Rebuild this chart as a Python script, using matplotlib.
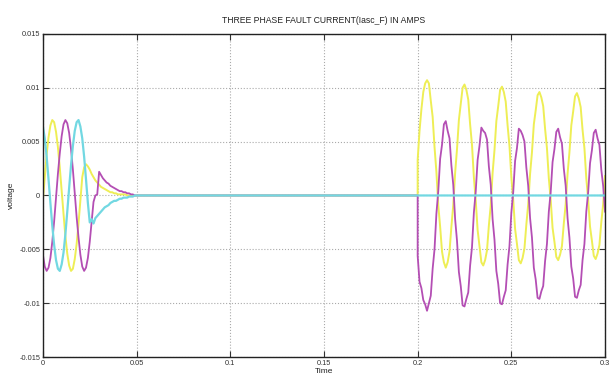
import numpy as np
import matplotlib
matplotlib.use("Agg")
import matplotlib.pyplot as plt

plt.rcParams['font.family'] = ['Liberation Sans Narrow', 'Liberation Sans', 'DejaVu Sans']

# sample grid (1 ms) for the two disturbed windows
t_early = np.arange(51) / 1000.0          # 0.000 .. 0.050 s
t_late = 0.2 + np.arange(101) / 1000.0    # 0.200 .. 0.300 s

# phase currents, 0 - 0.05 s
yel_early = [-0.0004, 0.0017, 0.0038, 0.0054, 0.0065, 0.0070, 0.0068, 0.0059, 0.0045, 0.0026,
             0.0004, -0.0017, -0.0038, -0.0054, -0.0065, -0.0070, -0.0068, -0.0059, -0.0045, -0.0026,
             -0.0004, 0.0017, 0.0026, 0.0029, 0.0027, 0.0024, 0.0020, 0.0017, 0.0014, 0.0012,
             0.0010, 0.0008, 0.0007, 0.0006, 0.0005, 0.0004, 0.0003, 0.0003, 0.0002, 0.0002,
             0.0001, 0.0001, 0.0001, 0.0001, 0.0001, 0.0, 0.0, 0.0, 0.0, 0.0, 0.0]
mag_early = [-0.0055, -0.0066, -0.0070, -0.0067, -0.0058, -0.0043, -0.0024, -0.0002, 0.0020, 0.0039,
             0.0055, 0.0066, 0.0070, 0.0067, 0.0058, 0.0043, 0.0024, 0.0002, -0.0020, -0.0039,
             -0.0055, -0.0066, -0.0070, -0.0067, -0.0058, -0.0043, -0.0024, -0.0006, 0.0000, 0.0001,
             0.0022, 0.0019, 0.0016, 0.0014, 0.0012, 0.0011, 0.0009, 0.0008, 0.0007, 0.0006,
             0.0005, 0.0004, 0.0004, 0.0003, 0.0003, 0.0002, 0.0002, 0.0001, 0.0001, 0.0, 0.0]
cyan_early = [0.0064, 0.0053, 0.0036, 0.0015, -0.0007, -0.0028, -0.0046, -0.0060, -0.0068, -0.0070,
              -0.0064, -0.0053, -0.0036, -0.0015, 0.0007, 0.0028, 0.0046, 0.0060, 0.0068, 0.0070,
              0.0064, 0.0053, 0.0036, 0.0015, -0.0007, -0.0025, -0.0022, -0.0026, -0.0021, -0.0019,
              -0.0017, -0.0015, -0.0013, -0.0011, -0.0010, -0.0009, -0.0007, -0.0006, -0.0005, -0.0005,
              -0.0004, -0.0003, -0.0003, -0.0002, -0.0002, -0.0002, -0.0001, -0.0001, -0.0001, 0.0, 0.0]

# fault window, 0.2 - 0.3 s (cyan phase stays at zero)
yel_late = [0.0033, 0.0060, 0.0080, 0.0096, 0.0104, 0.0107, 0.0104, 0.0088, 0.0073, 0.0045,
            0.0022, -0.0009, -0.0029, -0.0052, -0.0062, -0.0067, -0.0062, -0.0052, -0.0029, -0.0009,
            0.0021, 0.0043, 0.0070, 0.0085, 0.0100, 0.0103, 0.0098, 0.0089, 0.0066, 0.0047,
            0.0017, -0.0005, -0.0032, -0.0047, -0.0062, -0.0065, -0.0060, -0.0051, -0.0028, -0.0009,
            0.0021, 0.0042, 0.0069, 0.0083, 0.0098, 0.0101, 0.0096, 0.0087, 0.0065, 0.0046,
            0.0017, -0.0004, -0.0031, -0.0045, -0.0060, -0.0063, -0.0058, -0.0049, -0.0027, -0.0008,
            0.0020, 0.0040, 0.0066, 0.0079, 0.0093, 0.0096, 0.0091, 0.0083, 0.0062, 0.0044,
            0.0016, -0.0004, -0.0030, -0.0043, -0.0057, -0.0060, -0.0055, -0.0047, -0.0026, -0.0008,
            0.0020, 0.0040, 0.0065, 0.0078, 0.0092, 0.0095, 0.0090, 0.0082, 0.0061, 0.0044,
            0.0016, -0.0004, -0.0029, -0.0042, -0.0056, -0.0059, -0.0054, -0.0046, -0.0025, -0.0008,
            0.0018]
mag_late = [-0.0056, -0.0080, -0.0086, -0.0097, -0.0101, -0.0107, -0.0100, -0.0093, -0.0068, -0.0050,
            -0.0017, 0.0004, 0.0034, 0.0047, 0.0066, 0.0069, 0.0060, 0.0053, 0.0028, 0.0010,
            -0.0022, -0.0042, -0.0071, -0.0084, -0.0102, -0.0103, -0.0096, -0.0090, -0.0065, -0.0048,
            -0.0016, 0.0004, 0.0033, 0.0046, 0.0063, 0.0060, 0.0058, 0.0052, 0.0027, 0.0010,
            -0.0022, -0.0041, -0.0070, -0.0082, -0.0100, -0.0101, -0.0094, -0.0088, -0.0064, -0.0047,
            -0.0016, 0.0003, 0.0032, 0.0044, 0.0062, 0.0060, 0.0056, 0.0050, 0.0026, 0.0009,
            -0.0021, -0.0039, -0.0067, -0.0078, -0.0095, -0.0096, -0.0089, -0.0084, -0.0061, -0.0045,
            -0.0015, 0.0003, 0.0031, 0.0043, 0.0059, 0.0062, 0.0054, 0.0048, 0.0025, 0.0009,
            -0.0021, -0.0039, -0.0066, -0.0077, -0.0094, -0.0095, -0.0088, -0.0083, -0.0060, -0.0045,
            -0.0015, 0.0003, 0.0030, 0.0042, 0.0058, 0.0061, 0.0053, 0.0047, 0.0024, 0.0009,
            -0.0015]

x_ticks = [0, 0.05, 0.1, 0.15, 0.2, 0.25, 0.3]
x_labels = ['0', '0.05', '0.1', '0.15', '0.2', '0.25', '0.3']
y_ticks = [-0.015, -0.01, -0.005, 0, 0.005, 0.01, 0.015]
y_labels = ['-0.015', '-0.01', '-0.005', '0', '0.005', '0.01', '0.015']

# join the windows with the flat pre-fault zero section
t_fault = np.concatenate([t_early, [0.2], t_late])
yel = np.concatenate([yel_early, [0.0], yel_late])
mag = np.concatenate([mag_early, [0.0], mag_late])
t_cyan = np.concatenate([t_early, [0.3]])
cyan = np.concatenate([cyan_early, [0.0]])

fig = plt.figure(figsize=(6.13, 3.89), dpi=100)
ax = fig.add_axes([0.070, 0.082, 0.917, 0.831])

ax.plot(t_fault, yel, color='#eeee55', lw=1.4)
ax.plot(t_fault, mag, color='#b44eb4', lw=1.3)
ax.plot(t_cyan, cyan, color='#72d8e2', lw=1.6)

ax.set_xlim(0, 0.3)
ax.set_ylim(-0.015, 0.015)
ax.set_xticks(x_ticks)
ax.set_xticklabels(x_labels)
ax.set_yticks(y_ticks)
ax.set_yticklabels(y_labels)
ax.tick_params(direction='in', length=4, width=0.8, labelsize=5.3, colors='#333333',
               top=True, right=True, pad=2)
ax.grid(True, linestyle=':', color='#aaaaaa', linewidth=0.8)
for s in ax.spines.values():
    s.set_linewidth(1.0)
    s.set_color('#222222')

ax.set_title('THREE PHASE FAULT CURRENT(Iasc_F) IN AMPS', fontsize=6.2, pad=8, color='#222222')
ax.set_xlabel('Time', fontsize=6, labelpad=1, color='#222222')
ax.set_ylabel('voltage', fontsize=6, labelpad=3, color='#222222')

fig.savefig('out.png', dpi=100)
